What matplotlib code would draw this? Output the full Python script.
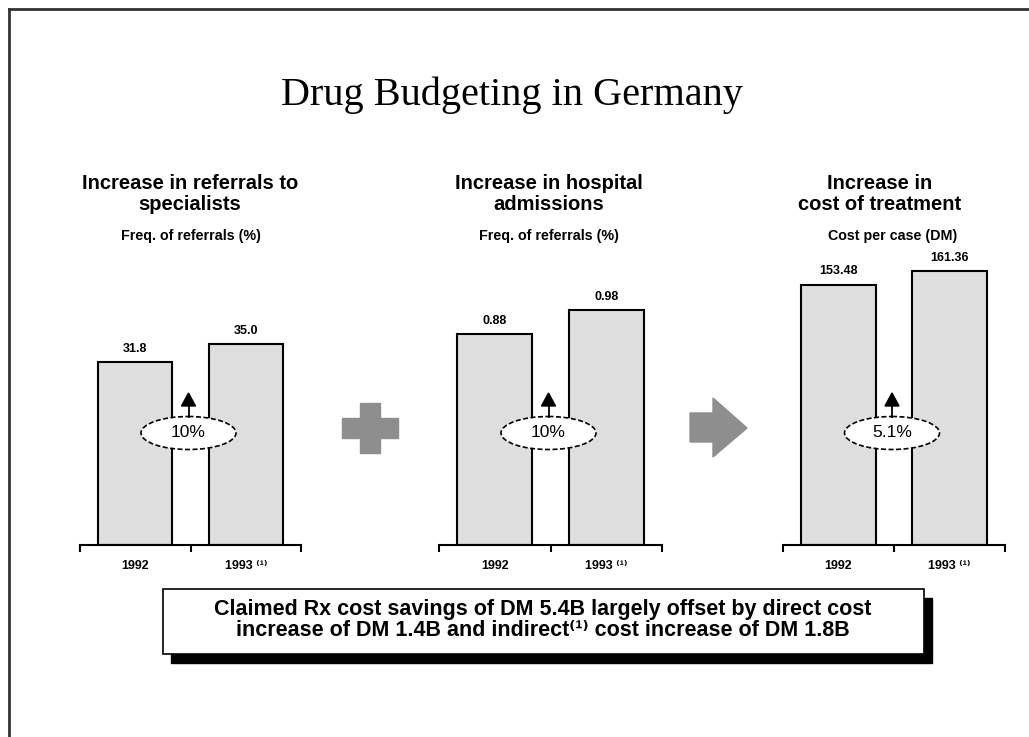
import numpy as np
import matplotlib
matplotlib.use("Agg")
import matplotlib.pyplot as plt
import matplotlib.transforms as mtransforms
from matplotlib.patches import Ellipse, Polygon, Rectangle
from matplotlib.lines import Line2D

plt.rcParams['font.family'] = ['Liberation Sans', 'DejaVu Sans']

W, H = 1029, 737

# data
years = ["1992", "1993 \u207d\u00b9\u207e"]
referrals = [31.8, 35.0]
admissions = [0.88, 0.98]
cost_per_case = [153.48, 161.36]
value_labels = [["31.8", "35.0"], ["0.88", "0.98"], ["153.48", "161.36"]]
growth = ["10%", "10%", "5.1%"]
titles = ["Increase in referrals to\nspecialists",
          "Increase in hospital\nadmissions",
          "Increase in\ncost of treatment"]
subtitles = ["Freq. of referrals (%)", "Freq. of referrals (%)", "Cost per case (DM)"]
series = [referrals, admissions, cost_per_case]

# layout (pixels)
ax_left = [80, 439, 783]
ax_width = [221, 223, 222]
px_per_unit = [5.75, 239.6, 1.697]
title_x = [190, 549, 880]
sub_x = [191, 549, 893]
base_y = 545
ax_h = 295

fig = plt.figure(figsize=(W / 100, H / 100), dpi=100)
px = mtransforms.Affine2D().scale(1.0 / W, -1.0 / H).translate(0, 1) + fig.transFigure

fig.text(512, 95, "Drug Budgeting in Germany", transform=px, ha="center", va="center",
         fontsize=29, family="Liberation Serif")

# slide frame
fig.add_artist(Line2D([9, W], [9, 9], transform=px, color="#333333", lw=2))
fig.add_artist(Line2D([9, 9], [9, H], transform=px, color="#333333", lw=2))

for k in range(3):
    ax = fig.add_axes([ax_left[k] / W, (H - base_y) / H, ax_width[k] / W, ax_h / H])
    ax.set_facecolor("none")
    vals = series[k]
    x = np.arange(len(vals))
    ax.bar(x, vals, width=0.67, color="#dedede", edgecolor="black", linewidth=1.5)
    ax.set_xlim(-0.5, 1.5)
    ax.set_ylim(0, ax_h / px_per_unit[k])
    for sp in ["top", "left", "right"]:
        ax.spines[sp].set_visible(False)
    ax.spines["bottom"].set_linewidth(1.5)
    ax.set_yticks([])
    ax.set_xticks(x)
    ax.set_xticklabels(years, fontsize=9, fontweight="bold")
    ax.set_xticks([-0.5, 0.5, 1.5], minor=True)
    ax.tick_params(axis="x", which="major", length=0, pad=11)
    ax.tick_params(axis="x", which="minor", length=5, width=1.5, direction="out")
    for i, v in enumerate(vals):
        ax.annotate(value_labels[k][i], (i, v), xytext=(0, 9.5), textcoords="offset points",
                    ha="center", va="center", fontsize=9, fontweight="bold")

    fig.text(title_x[k], 194, titles[k], transform=px, ha="center", va="center",
             fontsize=14.5, fontweight="bold", linespacing=1.1)
    fig.text(sub_x[k], 236, subtitles[k], transform=px, ha="center", va="center",
             fontsize=10.3, fontweight="bold")

    # growth bubble and arrow between the bars
    gx = ax.transData.transform((0.5, 0))[0] - 2
    ey = 433
    fig.add_artist(Line2D([gx, gx], [ey - 16, ey - 28], transform=px, color="black", lw=1.3))
    fig.add_artist(Polygon([[gx - 7, ey - 27], [gx + 7, ey - 27], [gx, ey - 40]],
                           closed=True, transform=px, color="black"))
    fig.add_artist(Ellipse((gx, ey), 95, 33, transform=px, facecolor="white",
                           edgecolor="black", linestyle=(0, (3, 1.5)), lw=1.2))
    fig.text(gx, ey, growth[k], transform=px, ha="center", va="center", fontsize=12.5)

# plus sign
cx, cy = 370, 428
a, b, t = 28, 25, 10
plus = [[cx - t, cy - b], [cx + t, cy - b], [cx + t, cy - t], [cx + a, cy - t],
        [cx + a, cy + t], [cx + t, cy + t], [cx + t, cy + b], [cx - t, cy + b],
        [cx - t, cy + t], [cx - a, cy + t], [cx - a, cy - t], [cx - t, cy - t]]
fig.add_artist(Polygon(plus, closed=True, transform=px, color="#8e8e8e"))

# right arrow
arrow = [[690, 413], [713, 413], [713, 398], [747, 428], [713, 457], [713, 442], [690, 442]]
fig.add_artist(Polygon(arrow, closed=True, transform=px, color="#8e8e8e"))

# conclusion box with shadow
fig.add_artist(Rectangle((171, 598), 761, 65, transform=px, facecolor="black", edgecolor="black"))
fig.add_artist(Rectangle((163, 589), 761, 65, transform=px, facecolor="white",
                         edgecolor="black", lw=1.2))
fig.text(543, 620, "Claimed Rx cost savings of DM 5.4B largely offset by direct cost\n"
         "increase of DM 1.4B and indirect\u207d\u00b9\u207e cost increase of DM 1.8B",
         transform=px, ha="center", va="center", fontsize=15.5, fontweight="bold",
         linespacing=0.98)

fig.savefig("out.png", dpi=100)
